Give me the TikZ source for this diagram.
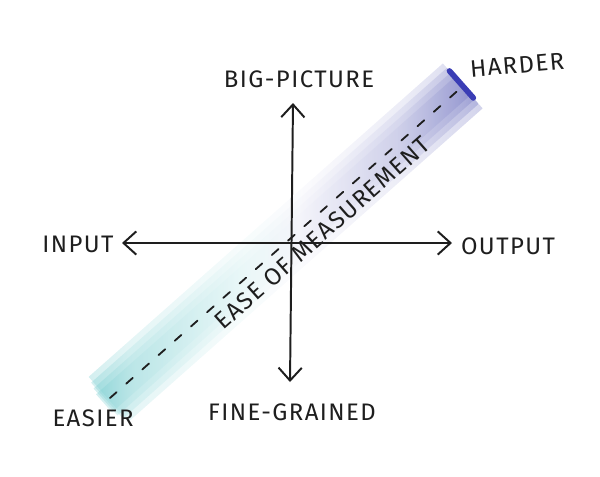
\documentclass[tikz,border=0pt]{standalone}
\usepackage{fontspec}
\setmainfont{Fira Sans}
\usetikzlibrary{arrows.meta}
\definecolor{easyTeal}{HTML}{6CC9CC}
\definecolor{hardBlue}{HTML}{4C50B0}
\definecolor{capBlue}{HTML}{3A3DB5}
\definecolor{inkGray}{HTML}{1E1E1E}
\pgfdeclarehorizontalshading{measure}{100bp}{color(0bp)=(easyTeal); color(25bp)=(easyTeal); color(30bp)=(easyTeal!60); color(45bp)=(easyTeal!18); color(52bp)=(hardBlue!8); color(65bp)=(hardBlue!35); color(73bp)=(hardBlue!70); color(75bp)=(hardBlue!85); color(100bp)=(hardBlue!85)}

\begin{document}
\begin{tikzpicture}[x=0.025cm, y=-0.025cm, line cap=round,
    axis/.style={inkGray, line width=1.4pt, {Straight Barb[length=3.2mm, width=5.8mm]}-{Straight Barb[length=3.2mm, width=5.8mm]}},
    dashline/.style={inkGray, line width=1.3pt, dash pattern=on 0.22cm off 0.32cm},
    band/.style={shading=measure, opacity=0.3},
    lbl/.style={inkGray, font=\fontsize{17}{19}\selectfont\addfontfeature{LetterSpace=6}}]
  \useasboundingbox (0,0) rectangle (600,476);
  \coordinate (O) at (291,243);
  \coordinate (up) at (293,103);
  \coordinate (down) at (290,382);
  \coordinate (left) at (122,243);
  \coordinate (right) at (452,243);
  \coordinate (lo) at (110,398);
  \coordinate (hi) at (463,86);

  \begin{scope}[shift={(lo)}, rotate=41.5]
    \foreach \w in {30,24,18,12}
      \shade[band] (-12+\w/3,-\w) rectangle (471,\w);
    \draw[capBlue, line width=4pt] (471,-20) -- (471,16);
  \end{scope}

  \draw[axis] (left) -- (right);
  \draw[axis] (down) -- (up);
  \draw[dashline] (lo) -- (hi) node[sloped, pos=0.57, below=2pt, lbl] (ease) {EASE OF MEASUREMENT};

  \node[lbl] (big) at (299,79) {BIG-PICTURE};
  \node[lbl] (fine) at (292,412) {FINE-GRAINED};
  \node[lbl] (inp) at (78,244) {INPUT};
  \node[lbl] (outp) at (508,246) {OUTPUT};
  \node[lbl] (easy) at (93,418) {EASIER};
  \node[lbl, rotate=5] (hard) at (517,65) {HARDER};
\end{tikzpicture}
\end{document}
